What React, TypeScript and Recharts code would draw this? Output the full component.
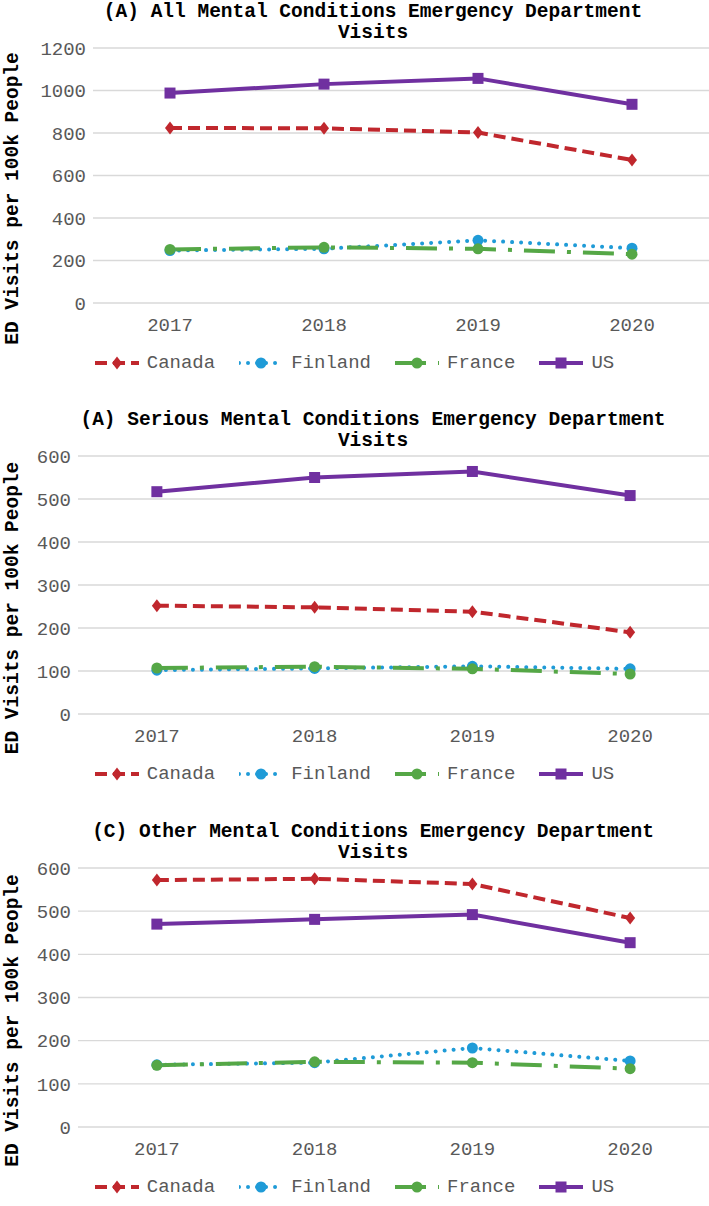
import React from 'react'
import { LineChart, Line, XAxis, YAxis, CartesianGrid, Legend } from 'recharts'

const years = ['2017', '2018', '2019', '2020']

// (A) all mental conditions
const canadaAll = [824, 822, 802, 673]
const finlandAll = [247, 255, 295, 258]
const franceAll = [252, 262, 255, 230]
const usAll = [988, 1030, 1057, 935]

// (A) serious mental conditions
const canadaSerious = [252, 248, 238, 190]
const finlandSerious = [102, 106, 111, 105]
const franceSerious = [107, 110, 105, 93]
const usSerious = [517, 550, 564, 508]

// (C) other mental conditions
const canadaOther = [572, 575, 563, 484]
const finlandOther = [144, 149, 183, 153]
const franceOther = [143, 151, 149, 135]
const usOther = [470, 481, 492, 427]

const ticksAll = [0, 200, 400, 600, 800, 1000, 1200]
const ticksSub = [0, 100, 200, 300, 400, 500, 600]

const FONT = '"Liberation Mono", "Courier New", monospace'
const TICK_COLOR = '#595959'
const CHART_W = 709

type MarkerShape = 'diamond' | 'circle' | 'square'

interface SeriesStyle {
  key: string
  name: string
  color: string
  dash?: string
  cap?: 'round' | 'butt'
  marker: MarkerShape
}

const seriesStyles: SeriesStyle[] = [
  { key: 'canada', name: 'Canada', color: '#C0272D', dash: '12 6', marker: 'diamond' },
  { key: 'finland', name: 'Finland', color: '#1F9BD7', dash: '0.01 9', cap: 'round', marker: 'circle' },
  { key: 'france', name: 'France', color: '#55A746', dash: '31 12 4 12', marker: 'circle' },
  { key: 'us', name: 'US', color: '#7030A0', marker: 'square' },
]

function buildData(canada: number[], finland: number[], france: number[], us: number[]) {
  return years.map((year, i) => ({
    year,
    canada: canada[i],
    finland: finland[i],
    france: france[i],
    us: us[i],
  }))
}

function Marker({ cx, cy, shape, color }: { cx?: number; cy?: number; shape: MarkerShape; color: string }) {
  if (cx == null || cy == null) return null
  if (shape === 'diamond') {
    return <polygon points={`${cx},${cy - 6.5} ${cx + 5},${cy} ${cx},${cy + 6.5} ${cx - 5},${cy}`} fill={color} />
  }
  if (shape === 'circle') return <circle cx={cx} cy={cy} r={5.5} fill={color} />
  return <rect x={cx - 5.5} y={cy - 5.5} width={11} height={11} fill={color} />
}

const renderLegend = () => (
  <div
    style={{
      display: 'flex',
      justifyContent: 'center',
      alignItems: 'center',
      height: 30,
      gap: 24,
      fontFamily: FONT,
      fontSize: 19,
      color: TICK_COLOR,
    }}
  >
    {seriesStyles.map((s) => (
      <div key={s.key} style={{ display: 'flex', alignItems: 'center', gap: 8 }}>
        <svg width={44} height={16}>
          <line
            x1={0}
            x2={44}
            y1={8}
            y2={8}
            stroke={s.color}
            strokeWidth={4}
            strokeDasharray={s.dash}
            strokeLinecap={s.cap || 'butt'}
          />
          <Marker cx={22} cy={8} shape={s.marker} color={s.color} />
        </svg>
        <span>{s.name}</span>
      </div>
    ))}
  </div>
)

const renderYLabel = (props: any) => {
  const vb = props.viewBox || {}
  const x = (vb.x || 0) + 13
  const y = (vb.y || 0) + (vb.height || 0) / 2 + 23
  return (
    <text
      x={x}
      y={y}
      transform={`rotate(-90, ${x}, ${y})`}
      textAnchor="middle"
      dominantBaseline="central"
      fontFamily={FONT}
      fontWeight="bold"
      fontSize={19.5}
      fill="#000"
    >
      ED Visits per 100k People
    </text>
  )
}

interface PanelProps {
  top: number
  titleLines: string[]
  data: ReturnType<typeof buildData>
  ticks: number[]
  yAxisWidth: number
  plotHeight: number
}

function Panel({ top, titleLines, data, ticks, yAxisWidth, plotHeight }: PanelProps) {
  const height = 48 + plotHeight + 45 + 30
  // half a category band on each side, like Excel's "between tick marks"
  const pad = (CHART_W - yAxisWidth) / (years.length * 2)
  return (
    <div style={{ position: 'absolute', left: 0, top, width: CHART_W, height }}>
      <div
        style={{
          position: 'absolute',
          left: 37,
          top: 2,
          width: 672,
          textAlign: 'center',
          fontFamily: FONT,
          fontWeight: 'bold',
          fontSize: 19.5,
          lineHeight: '21px',
          color: '#000',
        }}
      >
        {titleLines.map((t) => (
          <div key={t}>{t}</div>
        ))}
      </div>
      <LineChart
        width={CHART_W}
        height={height}
        data={data}
        margin={{ top: 48, right: 0, left: 0, bottom: 0 }}
        style={{ fontFamily: FONT }}
      >
        <CartesianGrid vertical={false} stroke="#D9D9D9" strokeWidth={1.3} />
        <XAxis
          dataKey="year"
          height={45}
          interval={0}
          padding={{ left: pad, right: pad }}
          tickLine={false}
          axisLine={false}
          tickSize={0}
          tickMargin={15}
          tick={{ fill: TICK_COLOR, fontSize: 19, fontFamily: FONT }}
        />
        <YAxis
          width={yAxisWidth}
          domain={[0, ticks[ticks.length - 1]]}
          ticks={ticks}
          interval={0}
          tickLine={false}
          axisLine={false}
          tickSize={0}
          tickMargin={7}
          tick={{ fill: TICK_COLOR, fontSize: 19, fontFamily: FONT }}
          label={{ content: renderYLabel }}
        />
        <Legend verticalAlign="bottom" height={30} content={renderLegend} />
        {seriesStyles.map((s) => (
          <Line
            key={s.key}
            type="linear"
            dataKey={s.key}
            name={s.name}
            stroke={s.color}
            strokeWidth={4}
            strokeDasharray={s.dash}
            strokeLinecap={s.cap || 'butt'}
            isAnimationActive={false}
            dot={(p: any) => (
              <Marker key={`${s.key}-${p.index}`} cx={p.cx} cy={p.cy} shape={s.marker} color={s.color} />
            )}
            activeDot={false}
          />
        ))}
      </LineChart>
    </div>
  )
}

export default function App() {
  return (
    <div style={{ position: 'absolute', left: 0, top: 0, width: CHART_W, height: 1206, background: '#fff' }}>
      <Panel
        top={0}
        titleLines={['(A) All Mental Conditions Emergency Department', 'Visits']}
        data={buildData(canadaAll, finlandAll, franceAll, usAll)}
        ticks={ticksAll}
        yAxisWidth={93}
        plotHeight={255}
      />
      <Panel
        top={408}
        titleLines={['(A) Serious Mental Conditions Emergency Department', 'Visits']}
        data={buildData(canadaSerious, finlandSerious, franceSerious, usSerious)}
        ticks={ticksSub}
        yAxisWidth={78}
        plotHeight={258}
      />
      <Panel
        top={820}
        titleLines={['(C) Other Mental Conditions Emergency Department', 'Visits']}
        data={buildData(canadaOther, finlandOther, franceOther, usOther)}
        ticks={ticksSub}
        yAxisWidth={78}
        plotHeight={259}
      />
    </div>
  )
}
